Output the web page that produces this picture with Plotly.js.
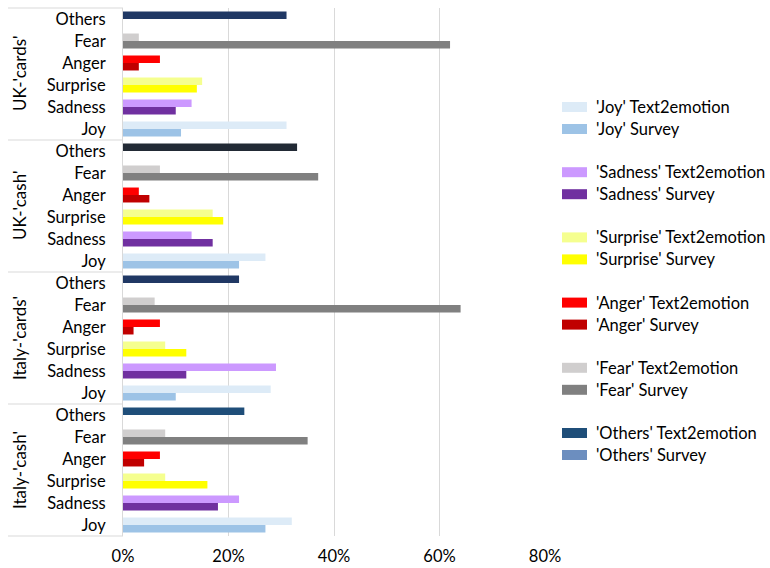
<!DOCTYPE html>
<html>
<head>
<meta charset="utf-8">
<script src="https://cdn.plot.ly/plotly-3.0.1.min.js"></script>
<style>html,body{margin:0;padding:0;background:#fff;}#chart{width:770px;height:568px;}</style>
</head>
<body>
<div id="chart"></div>
<script>
// Groups, bottom to top
const groups = ["Italy-'cash'", "Italy-'cards'", "UK-'cash'", "UK-'cards'"];
// Emotions, bottom to top within each group
const emotions = ["Joy", "Sadness", "Surprise", "Anger", "Fear", "Others"];

// Text2emotion values (%) per emotion, in group order
const t2eJoy      = [32, 28, 27, 31];
const t2eSadness  = [22, 29, 13, 13];
const t2eSurprise = [8, 8, 17, 15];
const t2eAnger    = [7, 7, 3, 7];
const t2eFear     = [8, 6, 7, 3];
const t2eOthers   = [23, 22, 33, 31];

// Survey values (%) per emotion, in group order
const surJoy      = [27, 10, 22, 11];
const surSadness  = [18, 12, 17, 10];
const surSurprise = [16, 12, 19, 14];
const surAnger    = [4, 2, 5, 3];
const surFear     = [35, 64, 37, 62];
const surOthers   = [0, 0, 0, 0];

const xTicks = [0, 20, 40, 60, 80];
const xTickLabels = ["0%", "20%", "40%", "60%", "80%"];

const t2eData = [t2eJoy, t2eSadness, t2eSurprise, t2eAnger, t2eFear, t2eOthers];
const surData = [surJoy, surSadness, surSurprise, surAnger, surFear, surOthers];

const t2eColors = ["#DDEBF7", "#CC99FF", "#F5FF8F", "#FF0000", "#D0CECE", "#1F4E79"];
const surColors = ["#9DC3E6", "#7030A0", "#FFFF00", "#C00000", "#808080", "#6C8EBF"];
// Others Text2emotion bars are drawn in slightly different navy shades per group
const othersT2EGroupColors = ["#1F4E79", "#203864", "#222A35", "#203864"];

const FONT = "Lato, 'Open Sans', sans-serif";
const FS = 16.5;
const W = 770, H = 568;
const M = {l: 123, r: 225, t: 8, b: 32};
const PW = W - M.l - M.r, PH = H - M.t - M.b;
const px2x = p => (p - M.l) / PW;
const py2y = p => (H - M.b - p) / PH;

const cats = [];
groups.forEach(g => emotions.forEach(e => cats.push(g + "|" + e)));

const BW = 0.34;
const traces = [];
emotions.forEach((e, i) => {
  const ys = groups.map(g => g + "|" + e);
  traces.push({
    type: "bar", orientation: "h", name: "'" + e + "' Text2emotion",
    y: ys, x: t2eData[i], offset: 0, width: BW,
    marker: {color: e === "Others" ? othersT2EGroupColors : t2eColors[i], line: {width: 0}},
    showlegend: false, hoverinfo: "x+name"
  });
  traces.push({
    type: "bar", orientation: "h", name: "'" + e + "' Survey",
    y: ys, x: surData[i], offset: -BW, width: BW,
    marker: {color: surColors[i], line: {width: 0}},
    showlegend: false, hoverinfo: "x+name"
  });
});

const shapes = [];
const annotations = [];
// Group divider lines in the label area
for (let k = 0; k <= groups.length; k++) {
  shapes.push({type: "line", xref: "paper", yref: "paper",
    x0: px2x(8), x1: 0, y0: k / groups.length, y1: k / groups.length,
    line: {color: "#D9D9D9", width: 1}});
}
// Group labels (rotated)
groups.forEach((g, k) => {
  annotations.push({xref: "paper", yref: "paper", x: px2x(19), y: (k + 0.5) / groups.length,
    text: g, textangle: -90, showarrow: false, xanchor: "center", yanchor: "middle",
    font: {family: FONT, size: 17, color: "#000"}});
});
// Custom legend
emotions.forEach((e, i) => {
  const base = 107 + i * 65.2;
  [[t2eColors[i], "'" + e + "' Text2emotion", base], [surColors[i], "'" + e + "' Survey", base + 22]].forEach(([c, t, py]) => {
    shapes.push({type: "rect", xref: "paper", yref: "paper",
      x0: px2x(562), x1: px2x(587), y0: py2y(py + 5), y1: py2y(py - 5),
      fillcolor: c, line: {width: 0}});
    annotations.push({xref: "paper", yref: "paper", x: px2x(594), y: py2y(py),
      text: t, showarrow: false, xanchor: "left", yanchor: "middle",
      font: {family: FONT, size: FS, color: "#000"}});
  });
});

const layout = {
  width: W, height: H, margin: M,
  paper_bgcolor: "#fff", plot_bgcolor: "#fff",
  barmode: "overlay", showlegend: false,
  font: {family: FONT, size: FS, color: "#000"},
  xaxis: {range: [0, 80], tickmode: "array", tickvals: xTicks, ticktext: xTickLabels, showgrid: true,
    gridcolor: "#D9D9D9", gridwidth: 1, zeroline: false, showline: false,
    tickfont: {family: FONT, size: FS, color: "#000"}, ticks: "", ticklabelstandoff: 8, fixedrange: true},
  yaxis: {type: "category", categoryorder: "array", categoryarray: cats,
    tickmode: "array", tickvals: cats, ticktext: cats.map(c => c.split("|")[1]),
    range: [-0.5, cats.length - 0.5], showgrid: false, zeroline: false,
    showline: true, linecolor: "#D9D9D9", linewidth: 1, ticks: "",
    ticklabelstandoff: 13, tickfont: {family: FONT, size: FS, color: "#000"}, fixedrange: true},
  shapes: shapes, annotations: annotations
};

Plotly.newPlot("chart", traces, layout, {displayModeBar: false, staticPlot: true});
</script>
</body>
</html>
